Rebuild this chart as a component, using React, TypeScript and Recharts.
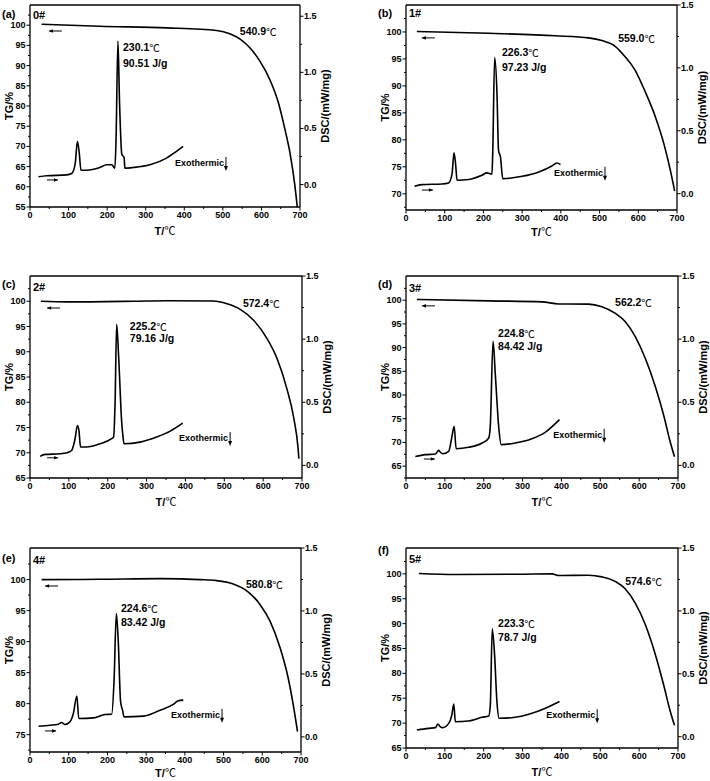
import React from "react";
import {
  ComposedChart,
  Line,
  XAxis,
  YAxis,
  ReferenceDot,
} from "recharts";

const FONT = "'Liberation Sans', Arial, Helvetica, sans-serif";
const CJK = "'Noto Sans CJK SC', 'DejaVu Sans', sans-serif";

// shared axis ticks
const tempMajors = [0, 100, 200, 300, 400, 500, 600, 700];
const dscMajors = [0, 0.5, 1, 1.5];

// (a) 0#
const tgTempA = [30, 181, 354, 484, 518, 544, 570, 596, 622, 644, 661, 674, 687, 693];
const tgValA = [100.25, 99.75, 99.34, 98.7, 97.9, 96.6, 94.4, 91.1, 86.5, 80.8, 74.2, 68.4, 60.1, 55];
const dscTempA = [22, 43, 95, 108, 117, 123, 128, 132, 147, 181, 199, 212, 220, 223, 228, 232, 238, 244, 246, 268, 311, 354, 376, 397];
const dscValA = [0.069, 0.078, 0.086, 0.098, 0.182, 0.385, 0.271, 0.128, 0.128, 0.152, 0.176, 0.176, 0.146, 0.39, 1.279, 0.75, 0.271, 0.24, 0.146, 0.152, 0.176, 0.236, 0.286, 0.34];
const tgMajorsA = [55, 60, 65, 70, 75, 80, 85, 90, 95, 100];

// (b) 1#
const tgTempB = [28, 214, 386, 472, 506, 541, 566, 592, 618, 644, 666, 683, 694];
const tgValB = [100.1, 99.75, 99.3, 98.9, 98.4, 97.3, 95.4, 92.9, 88.9, 84.3, 79.3, 74.3, 70.5];
const dscTempB = [22, 41, 93, 110, 119, 124, 128, 132, 162, 196, 209, 222, 224, 229, 235, 239, 244, 250, 300, 343, 377, 390, 399];
const dscValB = [0.058, 0.072, 0.077, 0.085, 0.159, 0.324, 0.239, 0.106, 0.112, 0.146, 0.165, 0.154, 0.319, 1.083, 0.797, 0.345, 0.292, 0.119, 0.138, 0.173, 0.22, 0.244, 0.231];
const tgMajorsB = [70, 75, 80, 85, 90, 95, 100];

// (c) 2#
const tgTempC = [28, 95, 266, 352, 472, 507, 541, 576, 610, 636, 661, 679, 690, 692];
const tgValC = [100, 99.87, 100, 100.1, 100.05, 99.5, 98.4, 96.2, 92.6, 88.6, 82.7, 76.8, 70.8, 68.8];
const dscTempC = [26, 39, 77, 95, 107, 116, 122, 126, 130, 146, 180, 210, 215, 219, 223, 228, 236, 239, 242, 283, 326, 361, 393];
const dscValC = [0.071, 0.087, 0.092, 0.1, 0.118, 0.211, 0.316, 0.276, 0.145, 0.145, 0.171, 0.211, 0.224, 0.5, 1.118, 0.868, 0.342, 0.237, 0.171, 0.184, 0.224, 0.271, 0.334];
const tgMajorsC = [65, 70, 75, 80, 85, 90, 95, 100];

// (d) 3#
const tgTempD = [28, 213, 350, 393, 470, 504, 539, 565, 590, 616, 642, 663, 680, 691];
const tgValD = [100.14, 99.86, 99.65, 99.2, 99.16, 98.6, 97.2, 95.4, 92.3, 87.7, 81.7, 75.8, 70.1, 67];
const dscTempD = [24, 50, 76, 84, 88, 94, 110, 118, 124, 129, 161, 196, 213, 217, 224, 230, 239, 245, 281, 324, 359, 395];
const dscValD = [0.071, 0.085, 0.09, 0.119, 0.106, 0.092, 0.111, 0.224, 0.309, 0.132, 0.143, 0.177, 0.217, 0.317, 0.982, 0.713, 0.29, 0.164, 0.177, 0.211, 0.264, 0.362];
const tgMajorsD = [65, 70, 75, 80, 85, 90, 95, 100];

// (e) 4#
const tgTempE = [30, 181, 336, 439, 482, 525, 560, 594, 620, 646, 667, 680, 691];
const tgValE = [100, 100.05, 100.16, 100, 99.84, 99.3, 98.2, 96, 93.3, 89, 84.1, 79.8, 75.5];
const dscTempE = [22, 52, 73, 82, 90, 103, 112, 121, 126, 164, 194, 211, 217, 223, 228, 234, 239, 243, 293, 336, 370, 383, 396];
const dscValE = [0.085, 0.093, 0.101, 0.114, 0.098, 0.119, 0.186, 0.324, 0.146, 0.151, 0.178, 0.18, 0.438, 0.98, 0.757, 0.279, 0.212, 0.159, 0.165, 0.212, 0.258, 0.287, 0.292];
const tgMajorsE = [75, 80, 85, 90, 95, 100];

// (f) 5#
const tgTempF = [33, 127, 299, 376, 393, 470, 504, 539, 564, 590, 616, 642, 663, 680, 691];
const tgValF = [100.07, 99.87, 99.93, 100, 99.67, 99.73, 99.4, 98.46, 97, 94.1, 89.76, 83.7, 77.7, 72.4, 69.55];
const dscTempF = [28, 58, 76, 82, 88, 94, 110, 118, 123, 127, 161, 196, 213, 217, 222, 228, 234, 240, 281, 316, 359, 395];
const dscValF = [0.053, 0.066, 0.072, 0.101, 0.08, 0.072, 0.106, 0.173, 0.26, 0.119, 0.125, 0.154, 0.165, 0.252, 0.858, 0.65, 0.279, 0.146, 0.154, 0.178, 0.226, 0.279];
const tgMajorsF = [65, 70, 75, 80, 85, 90, 95, 100];

type Pt = { t: number; v: number };
const zip = (ts: number[], vs: number[]): Pt[] => ts.map((t, i) => ({ t, v: vs[i] }));

// majors plus one minor tick halfway between, kept inside the domain
function withMinors(majors: number[], step: number, domain: [number, number]) {
  const out = new Set<number>();
  majors.forEach((m) => {
    [m, m - step / 2, m + step / 2].forEach((v) => {
      if (v >= domain[0] - 1e-9 && v <= domain[1] + 1e-9) out.add(+v.toFixed(4));
    });
  });
  return Array.from(out).sort((a, b) => a - b);
}

const isIn = (arr: number[], v: number) => arr.some((m) => Math.abs(m - v) < 1e-6);

function makeTick(side: "left" | "right" | "bottom", majors: number[], fmt: (v: number) => string) {
  return (props: any) => {
    const { x, y, payload } = props;
    const v = payload.value;
    const major = isIn(majors, v);
    const len = major ? 3.5 : 2;
    const txt = {
      fontSize: 9,
      fontWeight: 700,
      fontFamily: FONT,
      fill: "#000",
      dominantBaseline: "central" as const,
    };
    if (side === "left") {
      return (
        <g>
          <line x1={x - len} y1={y} x2={x} y2={y} stroke="#000" strokeWidth={1} />
          {major && (
            <text x={x - 4.5} y={y} textAnchor="end" {...txt}>
              {fmt(v)}
            </text>
          )}
        </g>
      );
    }
    if (side === "right") {
      return (
        <g>
          <line x1={x} y1={y} x2={x + len} y2={y} stroke="#000" strokeWidth={1} />
          {major && (
            <text x={x + 4} y={y} textAnchor="start" {...txt}>
              {fmt(v)}
            </text>
          )}
        </g>
      );
    }
    return (
      <g>
        <line x1={x} y1={y} x2={x} y2={y + len} stroke="#000" strokeWidth={1} />
        {major && (
          <text x={x} y={y + 7.5} textAnchor="middle" {...txt}>
            {fmt(v)}
          </text>
        )}
      </g>
    );
  };
}

const bold = { fontWeight: 700, fontFamily: FONT, fill: "#000" };

const Deg = () => (
  <tspan fontFamily={CJK} fontWeight={400}>
    ℃
  </tspan>
);

function textShape(value: string, degree: boolean, size: number) {
  return (p: any) => (
    <text x={p.cx} y={p.cy} dominantBaseline="central" fontSize={size} {...bold}>
      {value}
      {degree && <Deg />}
    </text>
  );
}

function arrowShape(dir: "left" | "right", len: number) {
  return (p: any) => {
    const x0 = p.cx;
    const x1 = p.cx + len;
    const tip = dir === "left" ? x0 : x1;
    const back = dir === "left" ? tip + 4 : tip - 4;
    return (
      <g>
        <line x1={x0} y1={p.cy} x2={x1} y2={p.cy} stroke="#000" strokeWidth={1} />
        <path d={`M${tip},${p.cy} L${back},${p.cy - 1.8} L${back},${p.cy + 1.8} Z`} fill="#000" />
      </g>
    );
  };
}

const exoShape = (p: any) => (
  <g>
    <text x={p.cx - 2} y={p.cy} textAnchor="end" dominantBaseline="central" fontSize={9} {...bold}>
      Exothermic
    </text>
    <line x1={p.cx} y1={p.cy - 6} x2={p.cx} y2={p.cy + 5} stroke="#000" strokeWidth={1} />
    <path d={`M${p.cx - 2},${p.cy + 3} L${p.cx},${p.cy + 8} L${p.cx + 2},${p.cy + 3} Z`} fill="#000" />
  </g>
);

interface Box {
  left: number;
  top: number;
  width: number;
  height: number;
  mTop: number;
  mLeft: number;
  rightW: number;
  xH: number;
  xLabelDy: number;
  tagDy: number;
  idDy: number;
}

interface PanelCfg {
  tag: string;
  id: string;
  tg: Pt[];
  dsc: Pt[];
  tgMajors: number[];
  tgDomain: [number, number];
  dscDomain: [number, number];
  onset: string;
  onsetAt: [number, number];
  peak: string;
  peakAt: [number, number];
  heat: string;
  heatAt: [number, number];
  exoAt: [number, number];
  tgArrow?: [number, number];
  dscArrow?: [number, number];
  box: Box;
}

const LEFT_W = 30;

const panels: PanelCfg[] = [
  {
    tag: "(a)", id: "0#",
    tg: zip(tgTempA, tgValA), dsc: zip(dscTempA, dscValA),
    tgMajors: tgMajorsA, tgDomain: [55, 105], dscDomain: [-0.2, 1.6],
    onset: "540.9", onsetAt: [544, 98.56],
    peak: "230.1", peakAt: [241, 94.6], heat: "90.51 J/g", heatAt: [241, 90.6],
    exoAt: [508, 65.9], tgArrow: [49, 98.56], dscArrow: [44, 61.7],
    box: { left: 0, top: 0, width: 340, height: 245, mTop: 5, mLeft: 0, rightW: 40, xH: 38, xLabelDy: 28, tagDy: 9, idDy: 10 },
  },
  {
    tag: "(b)", id: "1#",
    tg: zip(tgTempB, tgValB), dsc: zip(dscTempB, dscValB),
    tgMajors: tgMajorsB, tgDomain: [67, 105], dscDomain: [-0.13, 1.5],
    onset: "559.0", onsetAt: [548, 98.9],
    peak: "226.3", peakAt: [248, 96.3], heat: "97.23 J/g", heatAt: [248, 93.5],
    exoAt: [514, 73.9], tgArrow: [41, 98.9], dscArrow: [41, 70.7],
    box: { left: 370, top: 0, width: 340, height: 245, mTop: 5, mLeft: 6, rightW: 33, xH: 35, xLabelDy: 26, tagDy: 8, idDy: 8 },
  },
  {
    tag: "(c)", id: "2#",
    tg: zip(tgTempC, tgValC), dsc: zip(dscTempC, dscValC),
    tgMajors: tgMajorsC, tgDomain: [65, 105], dscDomain: [-0.1, 1.5],
    onset: "572.4", onsetAt: [548, 99.65],
    peak: "225.2", peakAt: [257, 95.1], heat: "79.16 J/g", heatAt: [257, 92.7],
    exoAt: [515, 72.9], tgArrow: [44, 98.66], dscArrow: [44, 69.0],
    box: { left: 0, top: 255, width: 340, height: 258, mTop: 21, mLeft: 0, rightW: 38, xH: 35, xLabelDy: 28, tagDy: 8, idDy: 11 },
  },
  {
    tag: "(d)", id: "3#",
    tg: zip(tgTempD, tgValD), dsc: zip(dscTempD, dscValD),
    tgMajors: tgMajorsD, tgDomain: [62.5, 105.1], dscDomain: [-0.1, 1.5],
    onset: "562.2", onsetAt: [538, 99.6],
    peak: "224.8", peakAt: [237, 93.1], heat: "84.42 J/g", heatAt: [237, 90.3],
    exoAt: [510, 71.6], tgArrow: [41, 98.8], dscArrow: [46, 66.5],
    box: { left: 370, top: 255, width: 340, height: 258, mTop: 21, mLeft: 6, rightW: 32, xH: 35, xLabelDy: 28, tagDy: 8, idDy: 12 },
  },
  {
    tag: "(e)", id: "4#",
    tg: zip(tgTempE, tgValE), dsc: zip(dscTempE, dscValE),
    tgMajors: tgMajorsE, tgDomain: [72.2, 105.1], dscDomain: [-0.12, 1.5],
    onset: "580.8", onsetAt: [558, 99.3],
    peak: "224.6", peakAt: [235, 95.4], heat: "83.42 J/g", heatAt: [235, 93.2],
    exoAt: [496, 78.2], tgArrow: [39, 98.97], dscArrow: [39, 75.6],
    box: { left: 0, top: 515, width: 340, height: 266, mTop: 33, mLeft: 0, rightW: 39, xH: 29, xLabelDy: 25, tagDy: 10, idDy: 12 },
  },
  {
    tag: "(f)", id: "5#",
    tg: zip(tgTempF, tgValF), dsc: zip(dscTempF, dscValF),
    tgMajors: tgMajorsF, tgDomain: [65, 105.2], dscDomain: [-0.09, 1.5],
    onset: "574.6", onsetAt: [564, 98.57],
    peak: "223.3", peakAt: [237, 90.1], heat: "78.7 J/g", heatAt: [237, 87.3],
    exoAt: [492, 71.6],
    box: { left: 370, top: 515, width: 340, height: 266, mTop: 33, mLeft: 6, rightW: 32, xH: 33, xLabelDy: 28, tagDy: 2, idDy: 11 },
  },
];

const axisLine = { stroke: "#000", strokeWidth: 1.3 };

function Panel({ cfg }: { cfg: PanelCfg }) {
  const b = cfg.box;
  const tempTicks = withMinors(tempMajors, 100, [0, 700]);
  const tgTicks = withMinors(cfg.tgMajors, 5, cfg.tgDomain);
  const dscTicks = withMinors(dscMajors, 0.5, cfg.dscDomain);
  const plotW = b.width - b.mLeft - LEFT_W - b.rightW;

  const leftLabel = (p: any) => {
    const vb = p.viewBox;
    const px = vb.x + vb.width;
    const cy = vb.y + vb.height / 2;
    return (
      <g>
        {/* top side of the frame */}
        <line x1={px} y1={vb.y} x2={px + plotW} y2={vb.y} stroke="#000" strokeWidth={1.3} />
        <text
          x={px - 21}
          y={cy}
          transform={`rotate(-90 ${px - 21} ${cy})`}
          textAnchor="middle"
          dominantBaseline="central"
          fontSize={11}
          {...bold}
        >
          TG/%
        </text>
        <text x={px - 28} y={vb.y + b.tagDy} dominantBaseline="central" fontSize={11} {...bold}>
          {cfg.tag}
        </text>
        <text x={px + 3} y={vb.y + b.idDy} dominantBaseline="central" fontSize={11} {...bold}>
          {cfg.id}
        </text>
      </g>
    );
  };

  const rightLabel = (p: any) => {
    const vb = p.viewBox;
    const x = vb.x + 25;
    const cy = vb.y + vb.height / 2;
    return (
      <text
        x={x}
        y={cy}
        transform={`rotate(-90 ${x} ${cy})`}
        textAnchor="middle"
        dominantBaseline="central"
        fontSize={11}
        {...bold}
      >
        DSC/(mW/mg)
      </text>
    );
  };

  const bottomLabel = (p: any) => {
    const vb = p.viewBox;
    return (
      <text x={vb.x + vb.width / 2} y={vb.y + b.xLabelDy} textAnchor="middle" fontSize={11} {...bold}>
        T/<Deg />
      </text>
    );
  };

  return (
    <div style={{ position: "absolute", left: b.left, top: b.top }}>
      <ComposedChart
        width={b.width}
        height={b.height}
        margin={{ top: b.mTop, right: 0, bottom: 0, left: b.mLeft }}
      >
        <XAxis
          dataKey="t"
          type="number"
          domain={[0, 700]}
          ticks={tempTicks}
          interval={0}
          allowDataOverflow
          height={b.xH}
          tickSize={0}
          tickMargin={0}
          tickLine={false}
          axisLine={axisLine}
          tick={makeTick("bottom", tempMajors, (v) => String(v))}
          label={bottomLabel}
        />
        <YAxis
          yAxisId="tg"
          type="number"
          domain={cfg.tgDomain}
          ticks={tgTicks}
          interval={0}
          allowDataOverflow
          width={LEFT_W}
          tickSize={0}
          tickMargin={0}
          tickLine={false}
          axisLine={axisLine}
          tick={makeTick("left", cfg.tgMajors, (v) => String(v))}
          label={leftLabel}
        />
        <YAxis
          yAxisId="dsc"
          orientation="right"
          type="number"
          domain={cfg.dscDomain}
          ticks={dscTicks}
          interval={0}
          allowDataOverflow
          width={b.rightW}
          tickSize={0}
          tickMargin={0}
          tickLine={false}
          axisLine={axisLine}
          tick={makeTick("right", dscMajors, (v) => v.toFixed(1))}
          label={rightLabel}
        />
        <Line
          yAxisId="tg"
          data={cfg.tg}
          dataKey="v"
          type="monotone"
          stroke="#000"
          strokeWidth={1.6}
          dot={false}
          isAnimationActive={false}
        />
        <Line
          yAxisId="dsc"
          data={cfg.dsc}
          dataKey="v"
          type="monotone"
          stroke="#000"
          strokeWidth={1.6}
          dot={false}
          isAnimationActive={false}
        />
        <ReferenceDot yAxisId="tg" x={cfg.onsetAt[0]} y={cfg.onsetAt[1]} r={0} ifOverflow="visible" shape={textShape(cfg.onset, true, 10.5)} />
        <ReferenceDot yAxisId="tg" x={cfg.peakAt[0]} y={cfg.peakAt[1]} r={0} ifOverflow="visible" shape={textShape(cfg.peak, true, 10.5)} />
        <ReferenceDot yAxisId="tg" x={cfg.heatAt[0]} y={cfg.heatAt[1]} r={0} ifOverflow="visible" shape={textShape(cfg.heat, false, 10.5)} />
        <ReferenceDot yAxisId="tg" x={cfg.exoAt[0]} y={cfg.exoAt[1]} r={0} ifOverflow="visible" shape={exoShape} />
        {cfg.tgArrow && (
          <ReferenceDot yAxisId="tg" x={cfg.tgArrow[0]} y={cfg.tgArrow[1]} r={0} ifOverflow="visible" shape={arrowShape("left", 13)} />
        )}
        {cfg.dscArrow && (
          <ReferenceDot yAxisId="tg" x={cfg.dscArrow[0]} y={cfg.dscArrow[1]} r={0} ifOverflow="visible" shape={arrowShape("right", 11)} />
        )}
      </ComposedChart>
    </div>
  );
}

export default function App() {
  return (
    <div
      style={{
        position: "absolute",
        left: 0,
        top: 0,
        width: 710,
        height: 781,
        background: "#fff",
        fontFamily: FONT,
      }}
    >
      {panels.map((p) => (
        <Panel key={p.id} cfg={p} />
      ))}
    </div>
  );
}
